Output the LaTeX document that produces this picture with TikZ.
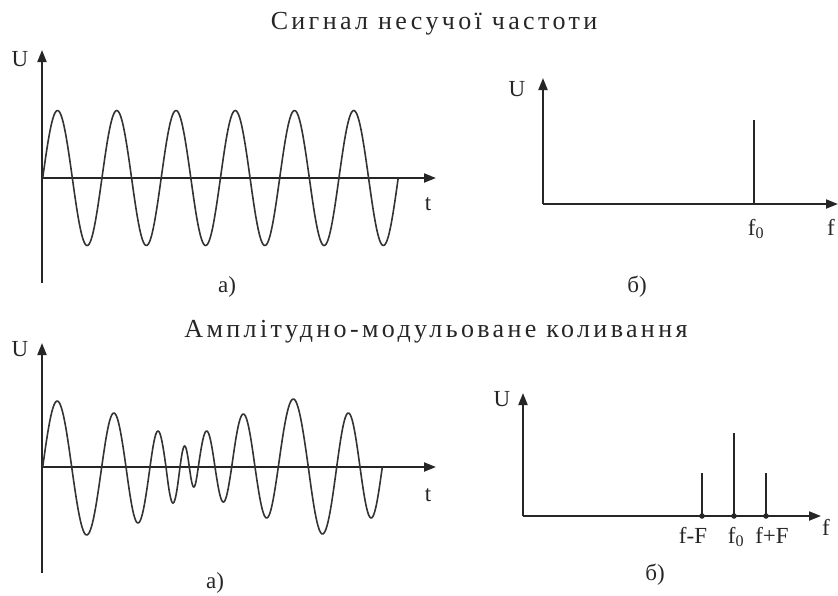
\documentclass[tikz,border=0pt]{standalone}
\usepackage{fontspec}
\setmainfont{Liberation Serif}
\newfontfamily\titlefont[LetterSpace=13]{Liberation Serif}
\usetikzlibrary{arrows.meta}
\begin{document}
\begin{tikzpicture}[x=1pt,y=-1pt,
  axisline/.style={line width=2pt,draw=black!85,-{Triangle[length=12pt,width=9pt]}},
  plainaxis/.style={line width=2pt,draw=black!85},
  wave/.style={line width=1.6pt,draw=black!80,line join=round},
  specline/.style={line width=1.8pt,draw=black!85},
  lbl/.style={font=\fontsize{23}{23}\selectfont,text=black!85,inner sep=0pt,anchor=base},
  ttl/.style={font=\titlefont\fontsize{26}{26}\selectfont,text=black!85,inner sep=0pt,anchor=base},
  dotmark/.style={circle,fill=black!85,inner sep=0pt,minimum size=5.5pt}]
\useasboundingbox (0,0) rectangle (838,595);
\fill[white] (0,0) rectangle (838,595);

% ---------- titles ----------
\node[ttl] (title1) at (434,29) {Сигнал несучої частоти};
\node[ttl] (title2) at (436,337) {Амплітудно-модульоване коливання};

% ---------- top-left: carrier signal ----------
\coordinate (o1) at (42,178);
\coordinate (o1top) at (42,50);
\coordinate (o1bot) at (42,283);
\coordinate (o1end) at (436,178);
\draw[plainaxis] (o1) -- (o1bot);
\draw[axisline] (o1) -- (o1top);
\draw[axisline] (o1) -- (o1end);
\draw[wave] plot[domain=42.7:398.2,samples=400] (\x,{178-67.5*sin((\x-42.7)/59.25*360)});
\node[lbl] (u1) at (20,66) {U};
\node[lbl] (t1) at (428,210) {t};
\node[lbl] (a1) at (227,292) {а)};

% ---------- top-right: carrier spectrum ----------
\coordinate (o2) at (543,204);
\coordinate (o2top) at (543,78);
\coordinate (o2end) at (838,204);
\coordinate (s0) at (754,204);
\coordinate (s0top) at (754,120);
\draw[axisline] (o2) -- (o2top);
\draw[axisline] (o2) -- (o2end);
\draw[specline] (s0) -- (s0top);
\node[lbl] (u2) at (517,96) {U};
\node[lbl] (f0a) at (756,235) {f\textsubscript{0}};
\node[lbl] (fa) at (831,235) {f};
\node[lbl] (b1) at (637,292) {б)};

% ---------- bottom-left: AM signal ----------
\coordinate (o3) at (42,467);
\coordinate (o3top) at (42,343);
\coordinate (o3bot) at (42,573);
\coordinate (o3end) at (436,467);
\draw[plainaxis] (o3) -- (o3bot);
\draw[axisline] (o3) -- (o3top);
\draw[axisline] (o3) -- (o3end);
\draw[wave] (42.7,467)
  \foreach \a/\b/\A in {42.7/71.7/66, 71.7/101.7/-68, 101.7/126/54, 126/150/-56,
     150/166/36, 166/180/-36, 180/189.3/21, 189.3/198.3/-20, 198.3/215/36,
     215/231.7/-35, 231.7/255/53, 255/278.3/-51, 278.3/308.3/68, 308.3/336.7/-67,
     336.7/360/54, 360/382.3/-51}
  { -- plot[domain=0:180,samples=30] ({\a+(\b-\a)*\x/180},{467-\A*sin(\x)}) };
\node[lbl] (u3) at (20,356) {U};
\node[lbl] (t3) at (428,501) {t};
\node[lbl] (a3) at (215,588) {а)};

% ---------- bottom-right: AM spectrum ----------
\coordinate (o4) at (523,516);
\coordinate (o4top) at (523,393);
\coordinate (o4end) at (821,516);
\draw[axisline] (o4) -- (o4top);
\draw[axisline] (o4) -- (o4end);
\node[dotmark] (p1) at (702,516) {};
\node[dotmark] (p2) at (734,516) {};
\node[dotmark] (p3) at (766,516) {};
\coordinate (p1top) at (702,473);
\coordinate (p2top) at (734,433);
\coordinate (p3top) at (766,473);
\draw[specline] (p1.center) -- (p1top);
\draw[specline] (p2.center) -- (p2top);
\draw[specline] (p3.center) -- (p3top);
\node[lbl] (u4) at (502,406) {U};
\node[lbl] (fmF) at (693,543) {f-F};
\node[lbl] (f0b) at (736,543) {f\textsubscript{0}};
\node[lbl] (fpF) at (772,543) {f+F};
\node[lbl] (fb) at (826,535) {f};
\node[lbl] (b2) at (655,580) {б)};
\end{tikzpicture}
\end{document}
